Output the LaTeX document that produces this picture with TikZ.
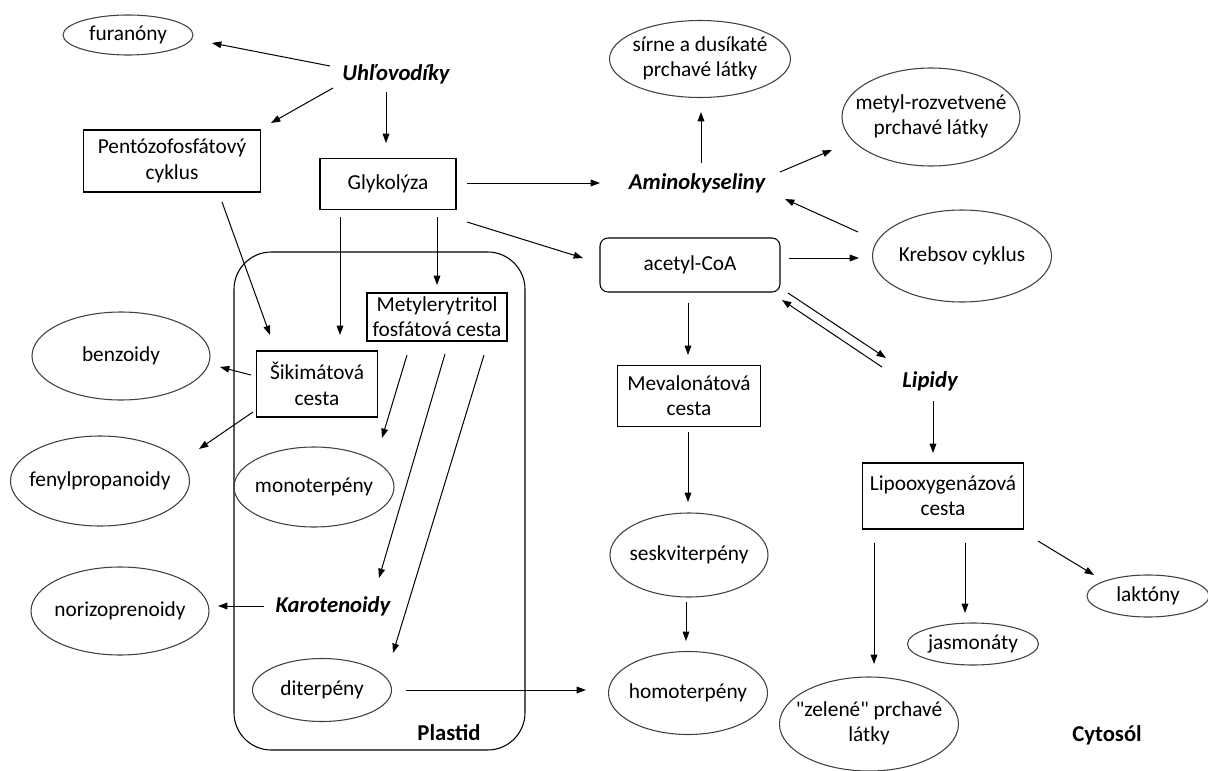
\documentclass[tikz,border=0pt]{standalone}
\usepackage{fontspec}
\setmainfont{Carlito}
\newfontfamily\qfont[Ligatures=ResetAll]{Carlito}
\usetikzlibrary{shapes.geometric,arrows.meta}
\newcommand\twol[2]{\makebox[0pt]{\begin{tabular}{@{}c@{}}#1\\#2\end{tabular}}}
\newcommand\onel[1]{\makebox[0pt]{#1}}
\begin{document}
\begin{tikzpicture}[x=0.75pt,y=-0.75pt,font=\fontsize{16}{19}\selectfont,
  box/.style={draw,line width=0.8pt,inner sep=0pt,align=center},
  ell/.style={draw=black!75,line width=0.8pt,ellipse,inner sep=0pt},
  sz/.style 2 args={minimum width=#1*0.75pt,minimum height=#2*0.75pt},
  hl/.style={font=\fontsize{17}{20}\selectfont\bfseries\itshape},
  bl/.style={font=\fontsize{17}{20}\selectfont\bfseries},
  arr/.style={-{Triangle[length=7pt,width=5pt]},line width=0.75pt}]
\useasboundingbox (0,0) rectangle (1208,771);
% plastid
\node[draw,line width=0.8pt,rounded corners=28pt,sz={291}{498}] (plastid) at (379.5,501) {};
\node[bl] (plabel) at (449,733) {Plastid};
\node[bl] (cyto) at (1107,735) {Cytosól};
% nodes
\node[ell,sz={130}{40}] (fur) at (128,35) {\onel{furanóny}};
\node[hl] (uhl) at (396,74) {Uhľovodíky};
\node[box,sz={177}{62}] (pent) at (172,161) {Pentózofosfátový\\cyklus};
\node[box,sz={136}{51}] (glyk) at (388,184) {Glykolýza};
\node[box,sz={140}{48}] (met) at (437,317) {Metylerytritol\\fosfátová cesta};
\node[box,sz={121}{66}] (sik) at (317,384) {Šikimátová\\cesta};
\node[ell,sz={178}{88}] (benz) at (121,356) {\onel{benzoidy}};
\node[ell,sz={179}{90}] (fenyl) at (100,481) {\onel{fenylpropanoidy}};
\node[ell,sz={160}{80}] (mono) at (314,487) {\onel{monoterpény}};
\node[hl] (karot) at (333,606) {Karotenoidy};
\node[ell,sz={178}{88}] (noriz) at (120,611) {\onel{norizoprenoidy}};
\node[ell,sz={139}{63}] (dit) at (322,690) {\onel{diterpény}};
\node[ell,sz={181}{77}] (sirne) at (700,59) {\twol{sírne a dusíkaté}{prchavé látky}};
\node[hl] (amino) at (697,183) {Aminokyseliny};
\node[ell,sz={178}{98}] (metyl) at (931,117) {\twol{metyl-rozvetvené}{prchavé látky}};
\node[ell,sz={179}{92}] (krebs) at (962,256) {\onel{Krebsov cyklus}};
\node[box,rounded corners=6pt,sz={180}{54}] (acetyl) at (690,265) {acetyl-CoA};
\node[hl] (lipidy) at (930,381) {Lipidy};
\node[box,sz={143}{61}] (meval) at (689,396) {Mevalonátová\\cesta};
\node[ell,sz={158}{84}] (seskv) at (689,555) {\onel{seskviterpény}};
\node[ell,sz={159}{83}] (homo) at (688,693) {\onel{homoterpény}};
\node[box,sz={161}{66}] (lipox) at (943,496) {Lipooxygenázová\\cesta};
\node[ell,sz={179}{94}] (zelene) at (869,724) {\twol{{\qfont"}zelené{\qfont"} prchavé}{látky}};
\node[ell,sz={131}{42}] (jasm) at (973,644) {\onel{jasmonáty}};
\node[ell,sz={122}{42}] (lakt) at (1148,596) {\onel{laktóny}};
% arrows
\draw[arr] ([shift={(-66,-8)}]uhl.center) -- ([shift={(84,8)}]fur.center);
\draw[arr] ([shift={(-63,14)}]uhl.center) -- ([shift={(99,-38)}]pent.center);
\draw[arr] ([shift={(-10,18)}]uhl.center) -- ([shift={(-2,-41)}]glyk.center);
\draw[arr] ([shift={(79,-1)}]glyk.center) -- ([shift={(-97,0)}]amino.center);
\draw[arr] ([shift={(79,38)}]glyk.center) -- ([shift={(-107,-7)}]acetyl.center);
\draw[arr] ([shift={(-48,33)}]glyk.center) -- ([shift={(23,-49)}]sik.center);
\draw[arr] ([shift={(49,33)}]glyk.center) -- ([shift={(0,-32)}]met.center);
\draw[arr] ([shift={(50,41)}]pent.center) -- ([shift={(-47,-49)}]sik.center);
\draw[arr] ([shift={(-66,-9)}]sik.center) -- ([shift={(99,11)}]benz.center);
\draw[arr] ([shift={(-64,28)}]sik.center) -- ([shift={(99,-32)}]fenyl.center);
\draw[arr] ([shift={(-30,38)}]met.center) -- ([shift={(68,-49)}]mono.center);
\draw[arr] ([shift={(8,37)}]met.center) -- ([shift={(46,-28)}]karot.center);
\draw[arr] ([shift={(47,38)}]met.center) -- ([shift={(71,-37)}]dit.center);
\draw[arr] ([shift={(-69,0)}]karot.center) -- ([shift={(98,-5)}]noriz.center);
\draw[arr] ([shift={(84,0)}]dit.center) -- ([shift={(-102,-3)}]homo.center);
\draw[arr] ([shift={(4,-20)}]amino.center) -- ([shift={(1,53)}]sirne.center);
\draw[arr] ([shift={(83,-11)}]amino.center) -- ([shift={(-99,33)}]metyl.center);
\draw[arr] ([shift={(-104,-24)}]krebs.center) -- ([shift={(88,16)}]amino.center);
\draw[arr] ([shift={(99,-7)}]acetyl.center) -- ([shift={(-103,2)}]krebs.center);
\draw[arr] ([shift={(98,28)}]acetyl.center) -- ([shift={(-44,-23)}]lipidy.center);
\draw[arr] ([shift={(-48,-14)}]lipidy.center) -- ([shift={(92,35)}]acetyl.center);
\draw[arr] ([shift={(-2,38)}]acetyl.center) -- ([shift={(-1,-41)}]meval.center);
\draw[arr] ([shift={(-1,36)}]meval.center) -- ([shift={(-1,-53)}]seskv.center);
\draw[arr] ([shift={(-3,47)}]seskv.center) -- ([shift={(-2,-52)}]homo.center);
\draw[arr] ([shift={(3,20)}]lipidy.center) -- ([shift={(-10,-43)}]lipox.center);
\draw[arr] ([shift={(-69,47)}]lipox.center) -- ([shift={(5,-60)}]zelene.center);
\draw[arr] ([shift={(22,47)}]lipox.center) -- ([shift={(-8,-31)}]jasm.center);
\draw[arr] ([shift={(95,45)}]lipox.center) -- ([shift={(-54,-21)}]lakt.center);
\end{tikzpicture}
\end{document}
